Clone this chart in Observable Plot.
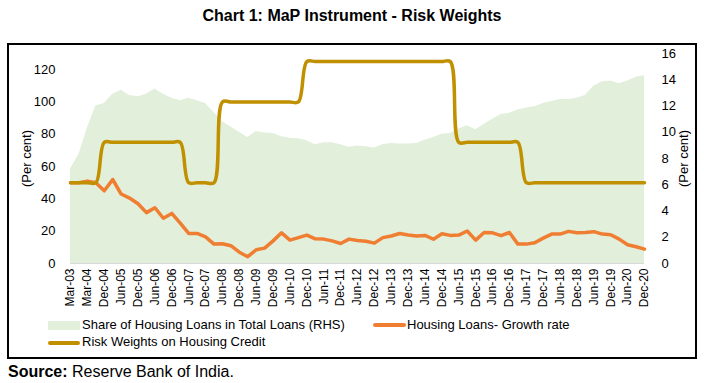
<!DOCTYPE html>
<html>
<head>
<meta charset="utf-8">
<script src="https://cdn.jsdelivr.net/npm/d3@7"></script>
<script src="https://cdn.jsdelivr.net/npm/@observablehq/plot@0.6"></script>
<style>
  body { margin:0; width:704px; height:383px; position:relative; background:#fff; overflow:hidden;
         font-family:"Liberation Sans", Arial, sans-serif; color:#000; }
  #title { position:absolute; top:7px; left:0; width:704px; text-align:center;
           font:bold 16px "Liberation Sans Narrow","Arial Narrow","Liberation Sans",sans-serif; }
  #chart { position:absolute; left:0; top:44px; }
  #box { position:absolute; left:7px; top:43px; width:686px; height:312px; border:2px solid #000; pointer-events:none; }
  .leg { position:absolute; font-size:13px; line-height:16px; white-space:nowrap; }
  .sw { position:absolute; }
  #source { position:absolute; left:8px; top:362px; font-size:16px; line-height:19px; }
</style>
</head>
<body>
<div id="title">Chart 1: MaP Instrument - Risk Weights</div>
<div id="chart"></div>
<div class="sw" style="left:48px;top:321px;width:32px;height:9px;background:#E2EFDA"></div>
<div class="leg" style="left:82px;top:317px">Share of Housing Loans in Total Loans (RHS)</div>
<div class="sw" style="left:373px;top:323px;width:33px;height:4px;border-radius:2px;background:#F07E32"></div>
<div class="leg" style="left:407px;top:317px">Housing Loans- Growth rate</div>
<div class="sw" style="left:48px;top:341px;width:32px;height:3.5px;border-radius:2px;background:#C09000"></div>
<div class="leg" style="left:82px;top:334px">Risk Weights on Housing Credit</div>
<div id="box"></div>
<div id="source"><b>Source:</b> Reserve Bank of India.</div>
<script>
const categories = [
  "Mar-03","Sep-03","Mar-04","Sep-04","Dec-04",
  "Mar-05","Jun-05","Sep-05","Dec-05",
  "Mar-06","Jun-06","Sep-06","Dec-06",
  "Mar-07","Jun-07","Sep-07","Dec-07",
  "Mar-08","Jun-08","Sep-08","Dec-08",
  "Mar-09","Jun-09","Sep-09","Dec-09",
  "Mar-10","Jun-10","Sep-10","Dec-10",
  "Mar-11","Jun-11","Sep-11","Dec-11",
  "Mar-12","Jun-12","Sep-12","Dec-12",
  "Mar-13","Jun-13","Sep-13","Dec-13",
  "Mar-14","Jun-14","Sep-14","Dec-14",
  "Mar-15","Jun-15","Sep-15","Dec-15",
  "Mar-16","Jun-16","Sep-16","Dec-16",
  "Mar-17","Jun-17","Sep-17","Dec-17",
  "Mar-18","Jun-18","Sep-18","Dec-18",
  "Mar-19","Jun-19","Sep-19","Dec-19",
  "Mar-20","Jun-20","Sep-20","Dec-20"
];
const tickLabels = [
  "Mar-03","Mar-04","Dec-04","Jun-05","Dec-05","Jun-06","Dec-06","Jun-07","Dec-07",
  "Jun-08","Dec-08","Jun-09","Dec-09","Jun-10","Dec-10","Jun-11","Dec-11","Jun-12",
  "Dec-12","Jun-13","Dec-13","Jun-14","Dec-14","Jun-15","Dec-15","Jun-16","Dec-16",
  "Jun-17","Dec-17","Jun-18","Dec-18","Jun-19","Dec-19","Jun-20","Dec-20"
];
// Share of housing loans in total loans (RHS, per cent)
const share = [
  7.2, 8.3, 10.3, 12.0, 12.2, 12.9, 13.2, 12.8, 12.7, 12.9, 13.3, 12.9, 12.6, 12.4, 12.6, 12.4, 12.2,
  11.5, 10.8, 10.4, 10.0, 9.6, 10.05, 9.95, 9.9, 9.65, 9.55, 9.5, 9.35, 9.05, 9.2, 9.2, 9.05, 8.85,
  8.95, 8.9, 8.8, 9.05, 9.15, 9.1, 9.1, 9.15, 9.4, 9.6, 9.85, 9.9, 10.25, 10.5, 10.2, 10.6, 11.0,
  11.35, 11.45, 11.7, 11.85, 11.95, 12.2, 12.35, 12.5, 12.5, 12.6, 12.8, 13.5, 13.85, 13.9, 13.7,
  13.9, 14.2, 14.3
];
// Housing loans growth rate (LHS, per cent)
const growth = [
  50, 50, 51, 50, 45, 52, 43, 40.5, 37, 31.5, 34.5, 28, 31, 25, 18.6, 18.6, 16.5,
  12, 12.2, 11, 7, 4.2, 8.5, 9.5, 14, 19, 14.5, 16, 17.6, 15.3, 15.1, 14, 12.4, 15.1,
  14.2, 13.8, 12.6, 16, 17, 18.6, 17.6, 17, 17.4, 15, 18.4, 17.4, 17.6, 20.1, 14.5, 19.2, 19,
  17.2, 19.2, 12, 12, 12.8, 15.7, 18.2, 18.2, 19.9, 19, 19.2, 19.7, 18.2, 17.8, 15.1,
  11.6, 10.4, 8.9
];
// Risk weights on housing credit (LHS, per cent)
const riskWeight = [
  50, 50, 50, 50,
  75, 75, 75, 75, 75, 75, 75, 75, 75, 75,
  50, 50, 50, 50,
  100, 100, 100, 100, 100, 100, 100, 100, 100, 100,
  125, 125, 125, 125, 125, 125, 125, 125, 125, 125, 125, 125, 125, 125, 125, 125, 125, 125,
  75, 75, 75, 75, 75, 75, 75, 75,
  50, 50, 50, 50, 50, 50, 50, 50, 50, 50, 50, 50, 50, 50, 50
];
const leftTicks = [0, 20, 40, 60, 80, 100, 120];
const rightTicks = [0, 2, 4, 6, 8, 10, 12, 14, 16];
const leftMax = 130, rightMax = 16;
const k = leftMax / rightMax;

const data = categories.map((c, i) => ({cat: c, share: share[i] * k, growth: growth[i], rw: riskWeight[i]}));

const chart = Plot.plot({
  width: 704, height: 270,
  marginLeft: 70, marginRight: 60, marginTop: 9, marginBottom: 51,
  style: {background: "transparent", fontFamily: "'Liberation Sans', Arial, sans-serif", fontSize: "13px", color: "#000"},
  x: {type: "point", domain: categories, padding: 0},
  y: {domain: [0, leftMax]},
  marks: [
    Plot.areaY(data, {x: "cat", y: "share", fill: "#E2EFDA"}),
    Plot.ruleY([0], {stroke: "#d9d9d9"}),
    Plot.lineY(data, {x: "cat", y: "growth", stroke: "#F07E32", strokeWidth: 3.5}),
    Plot.lineY(data, {x: "cat", y: "rw", stroke: "#C09000", strokeWidth: 3.5, curve: "catmull-rom"}),
    Plot.axisX({ticks: tickLabels, tickSize: 0, tickRotate: -90, tickPadding: 5, label: null, fontSize: 12}),
    Plot.axisY({anchor: "left", ticks: leftTicks, tickSize: 0, tickPadding: 15, label: "(Per cent)", labelAnchor: "center", labelOffset: 49, labelArrow: "none"}),
    Plot.axisY({anchor: "right", ticks: rightTicks.map(t => t * k), tickFormat: d => String(Math.round(d / k)), tickSize: 0, tickPadding: 17, label: "(Per cent)", labelAnchor: "center", labelOffset: 43, labelArrow: "none"})
  ]
});
document.getElementById("chart").appendChild(chart);
</script>
</body>
</html>
